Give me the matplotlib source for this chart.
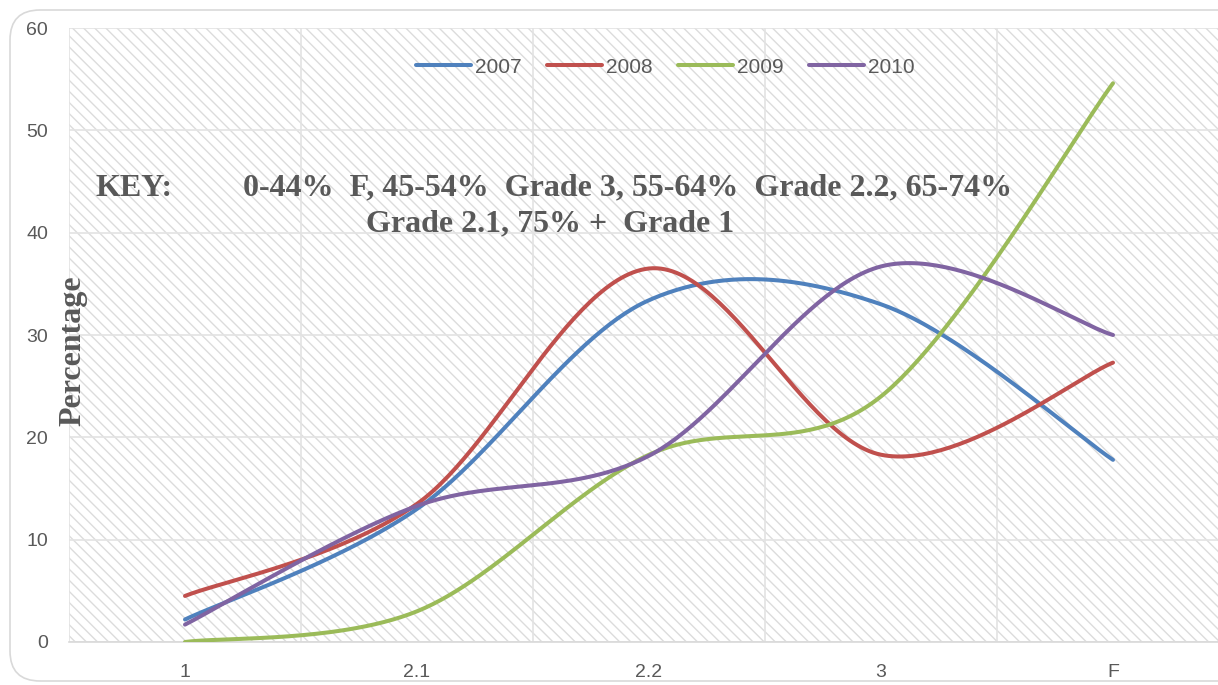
import numpy as np
import matplotlib
matplotlib.use("Agg")
import matplotlib.pyplot as plt
from matplotlib.patches import Rectangle, FancyBboxPatch

categories = ["1", "2.1", "2.2", "3", "F"]
years = ["2007", "2008", "2009", "2010"]
v2007 = [2.2, 13.0, 33.4, 33.0, 17.8]
v2008 = [4.5, 13.5, 36.5, 18.3, 27.3]
v2009 = [0.0, 3.0, 18.3, 24.0, 54.6]
v2010 = [1.7, 13.3, 18.2, 36.7, 30.0]
colors = ["#4F81BD", "#C0504D", "#9BBB59", "#8064A2"]
yticks = [0, 10, 20, 30, 40, 50, 60]


def smooth(xs, ys, n=60):
    P = np.column_stack([xs, ys]).astype(float)
    m = len(P)
    out = []
    for i in range(m - 1):
        p0 = P[i - 1] if i > 0 else P[i]
        p1 = P[i]
        p2 = P[i + 1]
        p3 = P[i + 2] if i + 2 < m else P[i + 1]
        c1 = p1 + (p2 - p0) / 6.0
        c2 = p2 - (p3 - p1) / 6.0
        t = np.linspace(0, 1, n)[:, None]
        seg = ((1 - t) ** 3) * p1 + 3 * ((1 - t) ** 2) * t * c1 + 3 * (1 - t) * t ** 2 * c2 + t ** 3 * p2
        out.append(seg if i == 0 else seg[1:])
    out = np.vstack(out)
    return out[:, 0], out[:, 1]


W, H = 1218, 685
plt.rcParams["hatch.linewidth"] = 1.0
fig = plt.figure(figsize=(W / 100, H / 100), dpi=100)
fig.patch.set_facecolor("white")

# outer rounded frame (in inches)
frame = FancyBboxPatch((10 / 100, 4 / 100), (W + 40) / 100, (681 - 10) / 100,
                       boxstyle="round,pad=0,rounding_size=0.3",
                       transform=fig.dpi_scale_trans, facecolor="none",
                       edgecolor="#d9d9d9", linewidth=1.2, zorder=-1)
fig.patches.append(frame)

left, right, top, bottom = 69, 1218, 28, 642
ax = fig.add_axes([left / W, (H - bottom) / H, (right - left) / W, (bottom - top) / H])
ax.set_facecolor("none")
bg = Rectangle((0, 0), 1, 1, transform=ax.transAxes, facecolor="white",
               edgecolor="#dcdcdc", hatch="\\\\\\", linewidth=0, zorder=0)
ax.add_patch(bg)

x = np.arange(1, len(categories) + 1)
for name, vals, c in zip(years, [v2007, v2008, v2009, v2010], colors):
    sx, sy = smooth(x, vals)
    ax.plot(sx, sy, color=c, lw=2.9, label=name, solid_capstyle="round", zorder=3)

ax.set_xticks(x)
ax.set_xticklabels(categories)
ax.set_xticks(np.arange(0.5, 5.4, 1.0), minor=True)
ax.set_yticks(yticks)
ax.set_xlim(0.5, 0.5 + (right - left) / 232.0)
ax.set_ylim(0, 60)
ax.grid(True, which="minor", axis="x", color="#e3e3e3", lw=1.2, zorder=1)
ax.grid(True, which="major", axis="y", color="#e3e3e3", lw=1.2, zorder=1)
ax.set_axisbelow(True)
for s in ["top", "right", "left"]:
    ax.spines[s].set_visible(False)
ax.spines["bottom"].set_color("#d9d9d9")
ax.spines["bottom"].set_linewidth(1.2)
ax.tick_params(axis="both", which="both", length=0, labelsize=14,
               labelcolor="#595959")
ax.tick_params(axis="x", pad=16)
ax.tick_params(axis="y", pad=15)
for lab in ax.get_xticklabels() + ax.get_yticklabels():
    lab.set_fontfamily("Liberation Sans")

leg = ax.legend(loc="center", bbox_to_anchor=(0.519, 1 - (67 - top) / (bottom - top)),
                ncol=4, frameon=False, prop={"family": "Liberation Sans", "size": 15},
                handlelength=2.65, columnspacing=1.2, handletextpad=0.2)
for t in leg.get_texts():
    t.set_color("#595959")

fs = 23
fig.text(73 / W, 1 - 351 / H, "Percentage", rotation=90, ha="center", va="center",
         fontfamily="Liberation Serif", fontweight="bold", fontsize=fs,
         color="#595959")

fig.text(95 / W, 1 - 188 / H, "KEY:", ha="left", va="center",
         fontfamily="Liberation Serif", fontweight="bold", fontsize=fs,
         color="#595959")
fig.text(243 / W, 1 - 188 / H, "0-44%  F, 45-54%  Grade 3, 55-64%  Grade 2.2, 65-74%",
         ha="left", va="center", fontfamily="Liberation Serif", fontweight="bold",
         fontsize=fs, color="#595959")
fig.text(550 / W, 1 - 224 / H, "Grade 2.1, 75% +  Grade 1", ha="center", va="center",
         fontfamily="Liberation Serif", fontweight="bold", fontsize=fs,
         color="#595959")

fig.savefig("out.png", dpi=100)
